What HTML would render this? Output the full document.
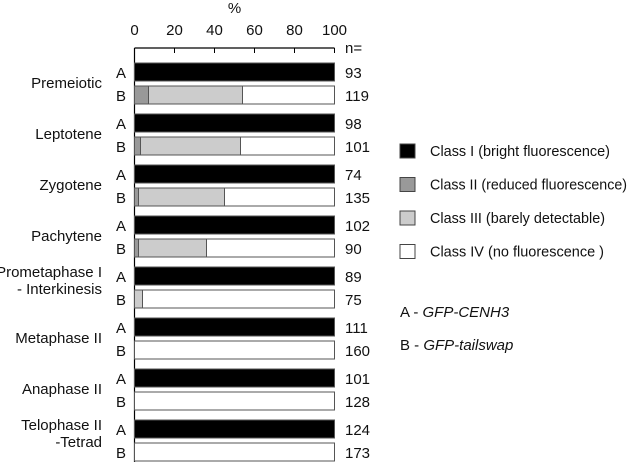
<!DOCTYPE html>
<html><head><meta charset="utf-8"><style>
body{margin:0;background:#fff;}
svg text{font-family:"Liberation Sans",sans-serif;font-size:15px;fill:#111;}
</style></head><body>
<svg id="c" width="632" height="466"></svg>
<script>
const stages=[["Premeiotic"],["Leptotene"],["Zygotene"],["Pachytene"],["Prometaphase I","- Interkinesis"],["Metaphase II"],["Anaphase II"],["Telophase II","-Tetrad"]];
const classIA=[100,100,100,100,100,100,100,100];
const classIIB=[7,3,2,2,0,0,0,0];
const classIIIB=[47,50,43,34,4,0,0,0];
const nA=[93,98,74,102,89,111,101,124];
const nB=[119,101,135,90,75,160,128,173];
const ticks=[0,20,40,60,80,100];
const legendLabels=["Class I (bright fluorescence)","Class II (reduced fluorescence)","Class III (barely detectable)","Class IV (no fluorescence )"];
const legendColors=["#000","#999","#ccc","#fff"];
const legendWidths=[180,197,175,174];
const NS="http://www.w3.org/2000/svg",svg=document.getElementById("c");
function el(t,a,p){const e=document.createElementNS(NS,t);for(const k in a)e.setAttribute(k,a[k]);(p||svg).appendChild(e);return e;}
const x0=134.5,x1=334.5;const xs=v=>x0+(x1-x0)*v/100;
const ys=i=>63+i*51;const BH=18,OFF=23;
let t=el("text",{x:xs(50),y:13,"text-anchor":"middle"});t.textContent="%";

let ax=el("line",{x1:x0,y1:48,x2:x0,y2:462,stroke:"#000","stroke-width":1.2});

let tp=el("line",{x1:x0,y1:48,x2:x1,y2:48,stroke:"#000","stroke-width":1.2});

ticks.forEach(v=>{let l=el("line",{x1:xs(v),y1:48,x2:xs(v),y2:53,stroke:"#000"});

let tt=el("text",{x:xs(v),y:35,"text-anchor":"middle"});tt.textContent=v;
});
let nt=el("text",{x:345,y:53,"font-size":"14"});nt.textContent="n=";

function bar(x,y,w,fill,name){const r=el("rect",{x:x,y:y,width:Math.max(w,0),height:BH,fill:fill,stroke:"#555","stroke-width":1});
}
stages.forEach((s,i)=>{const ya=ys(i),yb=ya+OFF;
const lbl=el("text",{x:102,y:s.length>1?ya+10:ya+25,"text-anchor":"end","font-size":"14"});

s.forEach((ln,j)=>{const ts=el("tspan",{x:102,dy:j?17:0},lbl);ts.textContent=ln;});
let a=el("text",{x:116,y:ya+15});a.textContent="A";
let b=el("text",{x:116,y:yb+15});b.textContent="B";
bar(x0,ya,xs(classIA[i])-x0,"#000","bar-a-class1");
bar(x0,yb,x1-x0,"#fff","bar-b-class4");
const e3=xs(classIIB[i]+classIIIB[i]);
if(classIIIB[i]>0)bar(xs(classIIB[i]),yb,e3-xs(classIIB[i]),"#ccc","bar-b-class3");
if(classIIB[i]>0)bar(x0,yb,xs(classIIB[i])-x0,"#999","bar-b-class2");
let na=el("text",{x:345,y:ya+15});na.textContent=nA[i];
let nb=el("text",{x:345,y:yb+15});nb.textContent=nB[i];});
legendLabels.forEach((l,i)=>{const y=144+i*33.5;
let r=el("rect",{x:400,y:y,width:15,height:14,fill:legendColors[i],stroke:"#444"});

let tx=el("text",{x:430,y:y+12,"font-size":"14",textLength:legendWidths[i],lengthAdjust:"spacingAndGlyphs"});tx.textContent=l;});
let ka=el("text",{x:400,y:317,"font-size":"14"});ka.innerHTML='A - <tspan font-style="italic">GFP-CENH3</tspan>';

let kb=el("text",{x:400,y:350,"font-size":"14"});kb.innerHTML='B - <tspan font-style="italic">GFP-tailswap</tspan>';

</script>
</body></html>
